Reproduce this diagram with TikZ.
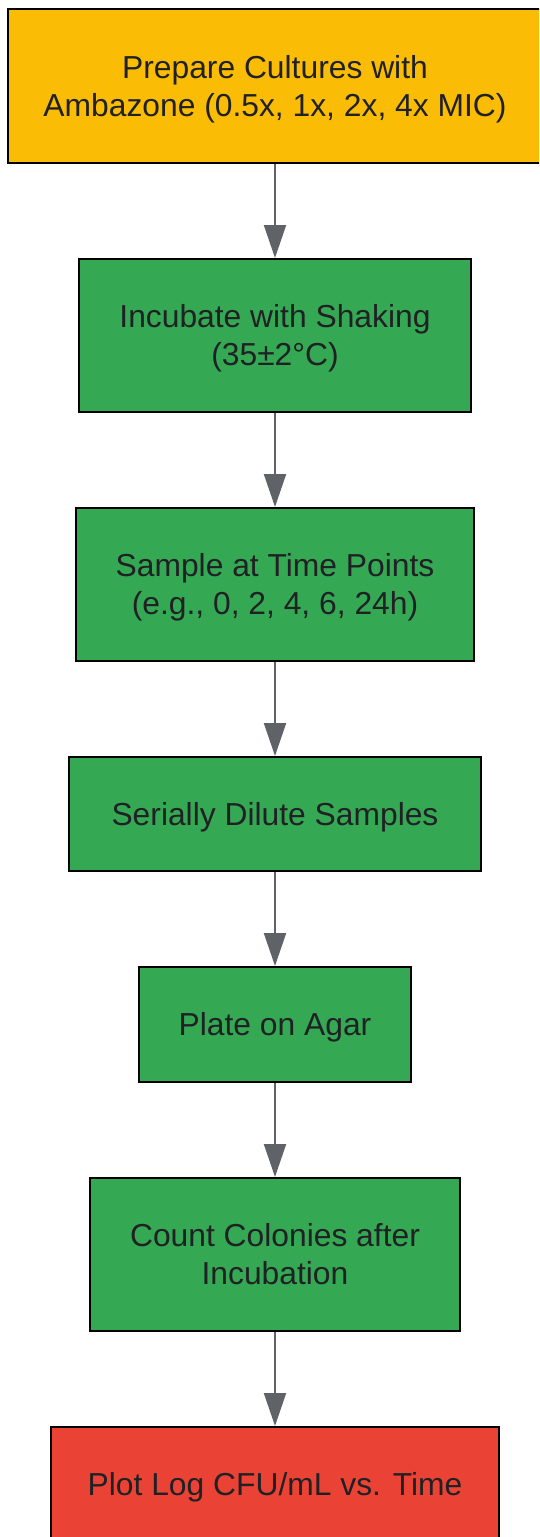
\documentclass[tikz,border=0pt]{standalone}
\usepackage{fontspec}
\setmainfont{Liberation Sans}
\usetikzlibrary{arrows.meta}
\definecolor{gyellow}{HTML}{FBBC05}
\definecolor{ggreen}{HTML}{34A853}
\definecolor{gred}{HTML}{EA4335}
\definecolor{txt}{HTML}{202124}
\definecolor{arr}{HTML}{5F6368}
\newcommand\lnst{\rule[-0.212em]{0pt}{1.117em}}
\tikzset{
  stepbox/.style={draw=black, line width=2pt, inner sep=0pt, align=center,
    text=txt, font=\fontsize{31.8}{38}\selectfont, anchor=north},
  flow/.style={draw=arr, line width=2pt, -{Triangle[length=33pt,width=22pt]}}
}
\begin{document}
\begin{tikzpicture}[x=1pt,y=-1pt]
\useasboundingbox (0,0) rectangle (539,1537);
\clip (0,0) rectangle (539,1537);
\node[stepbox, fill=gyellow, minimum width=534pt, minimum height=154pt] (a) at (275,8) {\lnst Prepare Cultures with\\\lnst Ambazone (0.5x, 1x, 2x, 4x MIC)};
\node[stepbox, fill=ggreen, minimum width=392pt, minimum height=153pt] (b) at (275,258) {\lnst Incubate with Shaking\\\lnst (35±2°C)};
\node[stepbox, fill=ggreen, minimum width=398pt, minimum height=153pt] (c) at (275,507) {\lnst Sample at Time Points\\\lnst (e.g., 0, 2, 4, 6, 24h)};
\node[stepbox, fill=ggreen, minimum width=412pt, minimum height=114pt] (d) at (275,756) {\lnst Serially Dilute Samples};
\node[stepbox, fill=ggreen, minimum width=272pt, minimum height=115pt] (e) at (275,966) {\lnst Plate on Agar};
\node[stepbox, fill=ggreen, minimum width=370pt, minimum height=153pt] (f) at (275,1177) {\lnst Count Colonies after\\\lnst Incubation};
\node[stepbox, fill=gred, minimum width=448pt, minimum height=115pt] (g) at (275,1426) {\lnst Plot Log CFU/mL vs. Time};
\draw[flow] (a.south) -- (b.north);
\draw[flow] (b.south) -- (c.north);
\draw[flow] (c.south) -- (d.north);
\draw[flow] (d.south) -- (e.north);
\draw[flow] (e.south) -- (f.north);
\draw[flow] (f.south) -- (g.north);
\end{tikzpicture}
\end{document}
